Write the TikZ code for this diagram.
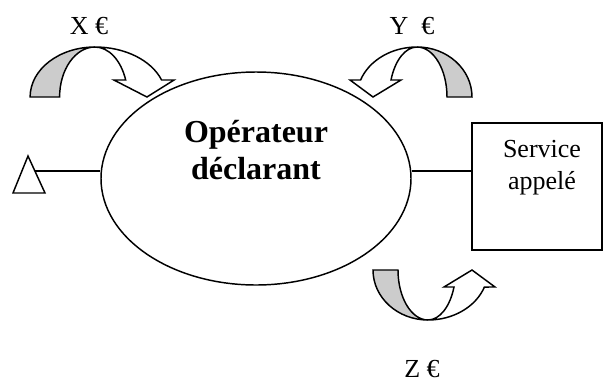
\documentclass[tikz,border=0pt]{standalone}
\usepackage{fontspec}
\setmainfont{Liberation Serif}
\usetikzlibrary{shapes.geometric}
\definecolor{band}{RGB}{204,204,204}
\definecolor{ink}{RGB}{0,0,0}
\tikzset{
  outline/.style={draw=ink,line width=1.1pt},
  oval/.style={ellipse,outline,minimum width=232.5pt,minimum height=159.75pt,inner sep=0pt},
  panel/.style={rectangle,outline,minimum width=97.5pt,minimum height=95.25pt,inner sep=0pt},
  title/.style={font=\fontsize{24}{27.75}\selectfont\bfseries,align=center},
  tag/.style={font=\fontsize{19.5}{24.5}\selectfont,align=center},
  link/.style={draw=ink,line width=1.1pt},
  % curved arrows
  pics/uturn/.style={code={
    \filldraw[outline,fill=band] (-55,0) arc[start angle=180,end angle=270,x radius=55,y radius=50]
      arc[start angle=270,end angle=180,x radius=30,y radius=50] -- cycle;
    \filldraw[outline,fill=white] (0,-50) arc[start angle=270,end angle=340.1,x radius=60,y radius=50]
      -- (67,-17) -- (44,0) -- (16,-17) -- (26,-17)
      arc[start angle=340.1,end angle=270,x radius=27.7,y radius=50] -- cycle;
  }},
}
\begin{document}
\begin{tikzpicture}[x=0.75pt,y=-0.75pt]
  \useasboundingbox (0,0) rectangle (604,383);
  \node[oval] (op) at (256,178.5) {};
  \node[title] (optxt) at ([yshift=21pt]op.center) {Opérateur\\déclarant};
  \node[panel] (svc) at (537,186.5) {};
  \node[tag] (svctxt) at (542,167.5) {Service\\appelé};
  \draw[outline] (13,193) -- (28,156) -- (45,193) -- cycle;
  \coordinate (tri) at (35,171);
  \draw[link] (tri) -- (tri -| op.west);
  \draw[link] (tri -| op.east) -- (tri -| svc.west);
  \pic[xscale=1.18] at (95,97) {uturn};
  \pic[xscale=-1] at (417,97) {uturn};
  \pic[yscale=-1] at (428,270) {uturn};
  \node[tag] (xlbl) at (89,26) {X €};
  \node[tag] (ylbl) at (412,26) {Y~~€};
  \node[tag] (zlbl) at (422,369.5) {Z €};
\end{tikzpicture}
\end{document}
